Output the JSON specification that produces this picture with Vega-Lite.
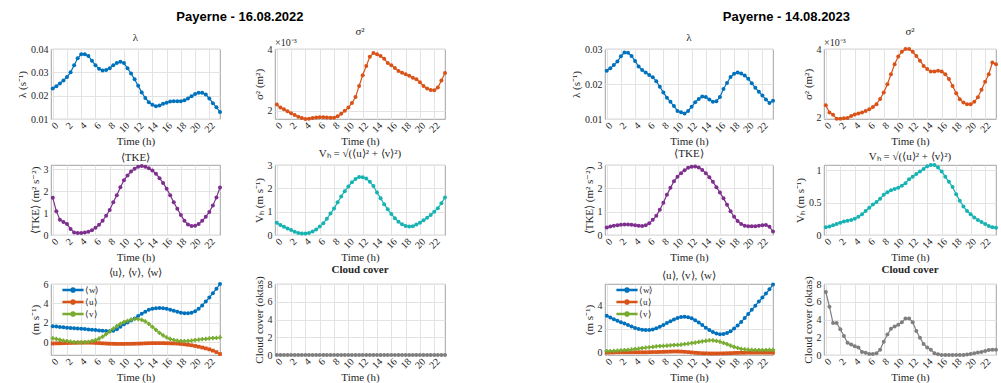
{
"$schema": "https://vega.github.io/schema/vega-lite/v6.json",
"padding": {"left": 16, "right": 0, "top": 10, "bottom": 0},
"datasets": {
"d22": [
{"t":0,"lam":0.0231,"sig":0.00220,"tke":1.70,"vh":0.52,"w":1.65,"u":-0.12,"v":0.42,"cc":0},
{"t":0.5,"lam":0.0240,"sig":0.00210,"tke":1.09,"vh":0.43,"w":1.62,"u":-0.10,"v":0.35,"cc":0},
{"t":1,"lam":0.0252,"sig":0.00205,"tke":0.70,"vh":0.35,"w":1.58,"u":-0.10,"v":0.25,"cc":0},
{"t":1.5,"lam":0.0265,"sig":0.00198,"tke":0.60,"vh":0.28,"w":1.55,"u":-0.08,"v":0.18,"cc":0},
{"t":2,"lam":0.0280,"sig":0.00192,"tke":0.50,"vh":0.21,"w":1.50,"u":-0.07,"v":0.12,"cc":0},
{"t":2.5,"lam":0.0300,"sig":0.00186,"tke":0.28,"vh":0.14,"w":1.48,"u":-0.06,"v":0.07,"cc":0},
{"t":3,"lam":0.0330,"sig":0.00180,"tke":0.12,"vh":0.09,"w":1.45,"u":-0.05,"v":0.03,"cc":0},
{"t":3.5,"lam":0.0360,"sig":0.00176,"tke":0.09,"vh":0.06,"w":1.42,"u":-0.04,"v":0.00,"cc":0},
{"t":4,"lam":0.0377,"sig":0.00173,"tke":0.09,"vh":0.06,"w":1.40,"u":-0.03,"v":0.00,"cc":0},
{"t":4.5,"lam":0.0378,"sig":0.00174,"tke":0.11,"vh":0.09,"w":1.37,"u":-0.03,"v":0.02,"cc":0},
{"t":5,"lam":0.0370,"sig":0.00176,"tke":0.15,"vh":0.15,"w":1.33,"u":-0.03,"v":0.06,"cc":0},
{"t":5.5,"lam":0.0350,"sig":0.00178,"tke":0.22,"vh":0.24,"w":1.30,"u":-0.04,"v":0.12,"cc":0},
{"t":6,"lam":0.0330,"sig":0.00179,"tke":0.33,"vh":0.36,"w":1.27,"u":-0.06,"v":0.22,"cc":0},
{"t":6.5,"lam":0.0315,"sig":0.00179,"tke":0.47,"vh":0.50,"w":1.23,"u":-0.08,"v":0.38,"cc":0},
{"t":7,"lam":0.0308,"sig":0.00178,"tke":0.65,"vh":0.70,"w":1.20,"u":-0.10,"v":0.58,"cc":0},
{"t":7.5,"lam":0.0310,"sig":0.00177,"tke":0.88,"vh":0.92,"w":1.17,"u":-0.12,"v":0.84,"cc":0},
{"t":8,"lam":0.0318,"sig":0.00177,"tke":1.14,"vh":1.14,"w":1.15,"u":-0.14,"v":1.12,"cc":0},
{"t":8.5,"lam":0.0330,"sig":0.00182,"tke":1.50,"vh":1.40,"w":1.20,"u":-0.15,"v":1.40,"cc":0},
{"t":9,"lam":0.0340,"sig":0.00190,"tke":1.82,"vh":1.65,"w":1.35,"u":-0.16,"v":1.66,"cc":0},
{"t":9.5,"lam":0.0345,"sig":0.00200,"tke":2.18,"vh":1.88,"w":1.60,"u":-0.16,"v":1.90,"cc":0},
{"t":10,"lam":0.0340,"sig":0.00210,"tke":2.50,"vh":2.08,"w":1.85,"u":-0.16,"v":2.08,"cc":0},
{"t":10.5,"lam":0.0317,"sig":0.00225,"tke":2.72,"vh":2.26,"w":2.05,"u":-0.15,"v":2.22,"cc":0},
{"t":11,"lam":0.0295,"sig":0.00244,"tke":2.90,"vh":2.40,"w":2.25,"u":-0.15,"v":2.33,"cc":0},
{"t":11.5,"lam":0.0270,"sig":0.00280,"tke":3.03,"vh":2.49,"w":2.45,"u":-0.14,"v":2.40,"cc":0},
{"t":12,"lam":0.0242,"sig":0.00315,"tke":3.12,"vh":2.48,"w":2.70,"u":-0.13,"v":2.40,"cc":0},
{"t":12.5,"lam":0.0214,"sig":0.00345,"tke":3.15,"vh":2.42,"w":2.95,"u":-0.12,"v":2.32,"cc":0},
{"t":13,"lam":0.0190,"sig":0.00375,"tke":3.12,"vh":2.28,"w":3.15,"u":-0.10,"v":2.15,"cc":0},
{"t":13.5,"lam":0.0172,"sig":0.00387,"tke":3.05,"vh":2.10,"w":3.35,"u":-0.09,"v":1.90,"cc":0},
{"t":14,"lam":0.0161,"sig":0.00383,"tke":2.95,"vh":1.82,"w":3.45,"u":-0.08,"v":1.60,"cc":0},
{"t":14.5,"lam":0.0155,"sig":0.00377,"tke":2.80,"vh":1.58,"w":3.50,"u":-0.08,"v":1.28,"cc":0},
{"t":15,"lam":0.0158,"sig":0.00368,"tke":2.60,"vh":1.32,"w":3.52,"u":-0.08,"v":0.98,"cc":0},
{"t":15.5,"lam":0.0165,"sig":0.00355,"tke":2.38,"vh":1.10,"w":3.50,"u":-0.08,"v":0.72,"cc":0},
{"t":16,"lam":0.0170,"sig":0.00347,"tke":2.12,"vh":0.90,"w":3.45,"u":-0.09,"v":0.50,"cc":0},
{"t":16.5,"lam":0.0175,"sig":0.00338,"tke":1.82,"vh":0.72,"w":3.35,"u":-0.10,"v":0.35,"cc":0},
{"t":17,"lam":0.0176,"sig":0.00329,"tke":1.50,"vh":0.57,"w":3.25,"u":-0.11,"v":0.24,"cc":0},
{"t":17.5,"lam":0.0176,"sig":0.00323,"tke":1.20,"vh":0.46,"w":3.15,"u":-0.13,"v":0.17,"cc":0},
{"t":18,"lam":0.0176,"sig":0.00318,"tke":0.92,"vh":0.39,"w":3.05,"u":-0.16,"v":0.13,"cc":0},
{"t":18.5,"lam":0.0180,"sig":0.00313,"tke":0.65,"vh":0.36,"w":3.00,"u":-0.20,"v":0.12,"cc":0},
{"t":19,"lam":0.0188,"sig":0.00307,"tke":0.48,"vh":0.38,"w":3.00,"u":-0.25,"v":0.14,"cc":0},
{"t":19.5,"lam":0.0198,"sig":0.00302,"tke":0.41,"vh":0.45,"w":3.05,"u":-0.30,"v":0.18,"cc":0},
{"t":20,"lam":0.0207,"sig":0.00292,"tke":0.42,"vh":0.53,"w":3.20,"u":-0.37,"v":0.23,"cc":0},
{"t":20.5,"lam":0.0212,"sig":0.00280,"tke":0.50,"vh":0.63,"w":3.45,"u":-0.45,"v":0.28,"cc":0},
{"t":21,"lam":0.0212,"sig":0.00272,"tke":0.65,"vh":0.74,"w":3.80,"u":-0.53,"v":0.32,"cc":0},
{"t":21.5,"lam":0.0205,"sig":0.00267,"tke":0.83,"vh":0.86,"w":4.20,"u":-0.62,"v":0.36,"cc":0},
{"t":22,"lam":0.0188,"sig":0.00266,"tke":1.05,"vh":1.00,"w":4.60,"u":-0.72,"v":0.40,"cc":0},
{"t":22.5,"lam":0.0168,"sig":0.00275,"tke":1.35,"vh":1.15,"w":5.05,"u":-0.85,"v":0.43,"cc":0},
{"t":23,"lam":0.0150,"sig":0.00298,"tke":1.72,"vh":1.36,"w":5.50,"u":-1.00,"v":0.47,"cc":0},
{"t":23.5,"lam":0.0130,"sig":0.00322,"tke":2.17,"vh":1.61,"w":6.00,"u":-1.20,"v":0.50,"cc":0}
],
"d23": [
{"t":0,"lam":0.0238,"sig":0.00237,"tke":0.32,"vh":0.12,"w":3.10,"u":-0.05,"v":0.08,"cc":7.10},
{"t":0.5,"lam":0.0245,"sig":0.00216,"tke":0.36,"vh":0.13,"w":2.95,"u":-0.04,"v":0.09,"cc":5.45},
{"t":1,"lam":0.0254,"sig":0.00209,"tke":0.40,"vh":0.15,"w":2.80,"u":-0.03,"v":0.10,"cc":3.60},
{"t":1.5,"lam":0.0264,"sig":0.00198,"tke":0.42,"vh":0.17,"w":2.67,"u":-0.02,"v":0.12,"cc":3.60},
{"t":2,"lam":0.0279,"sig":0.00198,"tke":0.44,"vh":0.19,"w":2.55,"u":-0.02,"v":0.14,"cc":2.90},
{"t":2.5,"lam":0.0290,"sig":0.00199,"tke":0.45,"vh":0.21,"w":2.43,"u":-0.02,"v":0.16,"cc":2.15},
{"t":3,"lam":0.0289,"sig":0.00200,"tke":0.45,"vh":0.22,"w":2.30,"u":-0.02,"v":0.19,"cc":1.37},
{"t":3.5,"lam":0.0280,"sig":0.00206,"tke":0.44,"vh":0.23,"w":2.18,"u":-0.02,"v":0.22,"cc":1.17},
{"t":4,"lam":0.0266,"sig":0.00210,"tke":0.42,"vh":0.25,"w":2.06,"u":-0.02,"v":0.25,"cc":1.00},
{"t":4.5,"lam":0.0250,"sig":0.00213,"tke":0.40,"vh":0.28,"w":1.97,"u":-0.02,"v":0.29,"cc":0.85},
{"t":5,"lam":0.0240,"sig":0.00216,"tke":0.39,"vh":0.32,"w":1.90,"u":-0.02,"v":0.33,"cc":0.35},
{"t":5.5,"lam":0.0233,"sig":0.00220,"tke":0.42,"vh":0.37,"w":1.87,"u":-0.02,"v":0.37,"cc":0.25},
{"t":6,"lam":0.0226,"sig":0.00225,"tke":0.50,"vh":0.42,"w":1.88,"u":-0.01,"v":0.41,"cc":0.12},
{"t":6.5,"lam":0.0219,"sig":0.00232,"tke":0.65,"vh":0.47,"w":1.93,"u":0.00,"v":0.45,"cc":0.12},
{"t":7,"lam":0.0208,"sig":0.00240,"tke":0.82,"vh":0.51,"w":2.02,"u":0.00,"v":0.48,"cc":0.20},
{"t":7.5,"lam":0.0192,"sig":0.00255,"tke":1.08,"vh":0.56,"w":2.15,"u":0.01,"v":0.51,"cc":0.60},
{"t":8,"lam":0.0176,"sig":0.00274,"tke":1.38,"vh":0.62,"w":2.30,"u":0.02,"v":0.53,"cc":1.50},
{"t":8.5,"lam":0.0161,"sig":0.00298,"tke":1.72,"vh":0.66,"w":2.47,"u":0.03,"v":0.55,"cc":2.30},
{"t":9,"lam":0.0149,"sig":0.00327,"tke":2.02,"vh":0.69,"w":2.63,"u":0.04,"v":0.57,"cc":2.95},
{"t":9.5,"lam":0.0137,"sig":0.00356,"tke":2.30,"vh":0.71,"w":2.78,"u":0.05,"v":0.59,"cc":3.20},
{"t":10,"lam":0.0123,"sig":0.00378,"tke":2.50,"vh":0.73,"w":2.90,"u":0.05,"v":0.61,"cc":3.40},
{"t":10.5,"lam":0.0119,"sig":0.00392,"tke":2.65,"vh":0.76,"w":2.98,"u":0.04,"v":0.64,"cc":3.70},
{"t":11,"lam":0.0116,"sig":0.00400,"tke":2.78,"vh":0.80,"w":3.00,"u":0.02,"v":0.67,"cc":4.10},
{"t":11.5,"lam":0.0123,"sig":0.00400,"tke":2.88,"vh":0.86,"w":2.97,"u":0.00,"v":0.71,"cc":4.10},
{"t":12,"lam":0.0135,"sig":0.00392,"tke":2.93,"vh":0.90,"w":2.88,"u":-0.03,"v":0.76,"cc":3.70},
{"t":12.5,"lam":0.0148,"sig":0.00380,"tke":2.94,"vh":0.94,"w":2.72,"u":-0.06,"v":0.81,"cc":2.70},
{"t":13,"lam":0.0157,"sig":0.00366,"tke":2.89,"vh":0.98,"w":2.52,"u":-0.08,"v":0.86,"cc":1.95},
{"t":13.5,"lam":0.0164,"sig":0.00351,"tke":2.79,"vh":1.02,"w":2.30,"u":-0.10,"v":0.91,"cc":1.25},
{"t":14,"lam":0.0163,"sig":0.00342,"tke":2.65,"vh":1.06,"w":2.08,"u":-0.11,"v":0.96,"cc":0.85},
{"t":14.5,"lam":0.0156,"sig":0.00335,"tke":2.48,"vh":1.08,"w":1.87,"u":-0.12,"v":0.99,"cc":0.60},
{"t":15,"lam":0.0149,"sig":0.00335,"tke":2.28,"vh":1.08,"w":1.70,"u":-0.12,"v":0.99,"cc":0.20},
{"t":15.5,"lam":0.0151,"sig":0.00337,"tke":2.05,"vh":1.04,"w":1.58,"u":-0.12,"v":0.95,"cc":0.08},
{"t":16,"lam":0.0163,"sig":0.00335,"tke":1.82,"vh":0.98,"w":1.52,"u":-0.12,"v":0.88,"cc":0},
{"t":16.5,"lam":0.0186,"sig":0.00327,"tke":1.57,"vh":0.90,"w":1.53,"u":-0.11,"v":0.78,"cc":0},
{"t":17,"lam":0.0203,"sig":0.00313,"tke":1.30,"vh":0.82,"w":1.62,"u":-0.10,"v":0.67,"cc":0},
{"t":17.5,"lam":0.0220,"sig":0.00293,"tke":1.02,"vh":0.74,"w":1.78,"u":-0.09,"v":0.55,"cc":0},
{"t":18,"lam":0.0229,"sig":0.00272,"tke":0.78,"vh":0.63,"w":2.00,"u":-0.08,"v":0.44,"cc":0},
{"t":18.5,"lam":0.0233,"sig":0.00254,"tke":0.60,"vh":0.53,"w":2.27,"u":-0.07,"v":0.35,"cc":0},
{"t":19,"lam":0.0230,"sig":0.00245,"tke":0.47,"vh":0.44,"w":2.57,"u":-0.06,"v":0.28,"cc":0},
{"t":19.5,"lam":0.0224,"sig":0.00240,"tke":0.40,"vh":0.37,"w":2.90,"u":-0.06,"v":0.23,"cc":0.05},
{"t":20,"lam":0.0215,"sig":0.00240,"tke":0.38,"vh":0.32,"w":3.25,"u":-0.05,"v":0.20,"cc":0.12},
{"t":20.5,"lam":0.0202,"sig":0.00247,"tke":0.37,"vh":0.27,"w":3.60,"u":-0.05,"v":0.18,"cc":0.20},
{"t":21,"lam":0.0189,"sig":0.00260,"tke":0.38,"vh":0.23,"w":3.95,"u":-0.05,"v":0.17,"cc":0.28},
{"t":21.5,"lam":0.0178,"sig":0.00282,"tke":0.40,"vh":0.20,"w":4.30,"u":-0.05,"v":0.17,"cc":0.35},
{"t":22,"lam":0.0167,"sig":0.00305,"tke":0.42,"vh":0.17,"w":4.65,"u":-0.05,"v":0.17,"cc":0.45},
{"t":22.5,"lam":0.0156,"sig":0.00327,"tke":0.43,"vh":0.14,"w":4.98,"u":-0.05,"v":0.17,"cc":0.55},
{"t":23,"lam":0.0146,"sig":0.00361,"tke":0.35,"vh":0.12,"w":5.35,"u":-0.05,"v":0.18,"cc":0.60},
{"t":23.5,"lam":0.0152,"sig":0.00356,"tke":0.15,"vh":0.11,"w":5.75,"u":-0.05,"v":0.18,"cc":0.58}
]
},
"config": {
  "font": "Liberation Serif",
  "view": {"stroke": "#8a8a8a", "strokeWidth": 0.8},
  "axis": {"labelFont": "Liberation Serif", "titleFont": "Liberation Serif", "labelFontSize": 10, "titleFontSize": 11, "titleFontWeight": "normal", "labelColor": "#262626", "titleColor": "#262626", "gridColor": "#e3e3e3", "domain": false, "ticks": false, "labelPadding": 3, "titlePadding": 3},
  "title": {"font": "Liberation Serif", "fontSize": 11, "fontWeight": "normal", "color": "#262626", "offset": 1},
  "line": {"strokeWidth": 1.2},
  "point": {"filled": true, "size": 16, "opacity": 1}
},
"resolve": {"scale": {"color": "independent"}, "legend": {"color": "independent"}},
"spacing": 122,
"hconcat": [
{
 "title": {"text": "Payerne - 16.08.2022", "font": "Liberation Sans", "fontSize": 13, "fontWeight": "bold", "color": "#000000", "anchor": "middle", "offset": 2, "dx": 8},
 "columns": 2,
 "spacing": {"row": 0, "column": 29},
 "resolve": {"scale": {"color": "independent"}, "legend": {"color": "independent"}},
 "concat": [
   {"width": 169, "height": 70, "data": {"name": "d22"}, "title": "λ",
    "mark": {"type": "line", "color": "#0072BD", "point": {"filled": true, "size": 16, "color": "#0072BD"}},
    "encoding": {
     "x": {"field": "t", "type": "quantitative", "scale": {"domain": [-0.25, 23.5], "nice": false, "zero": false}, "axis": {"title": "Time (h)", "labelAngle": -45, "tickCount": 12, "labelPadding": 1, "titlePadding": 1, "encode": {"labels": {"update": {"angle": {"value": -45}, "align": {"value": "right"}, "baseline": {"value": "middle"}}}}}},
     "y": {"field": "lam", "type": "quantitative", "scale": {"domain": [0.01, 0.04], "nice": false, "zero": false}, "axis": {"title": "λ (s⁻¹)", "values": [0.01, 0.02, 0.03, 0.04], "format": ".2f"}}}},
   {"width": 170, "height": 70, "data": {"name": "d22"}, "title": "σ²",
    "layer": [
     {"mark": {"type": "line", "color": "#D95319", "point": {"filled": true, "size": 16, "color": "#D95319"}},
      "encoding": {
       "x": {"field": "t", "type": "quantitative", "scale": {"domain": [-0.25, 23.5], "nice": false, "zero": false}, "axis": {"title": "Time (h)", "labelAngle": -45, "tickCount": 12, "labelPadding": 1, "titlePadding": 1, "encode": {"labels": {"update": {"angle": {"value": -45}, "align": {"value": "right"}, "baseline": {"value": "middle"}}}}}},
       "y": {"field": "sig", "type": "quantitative", "scale": {"domain": [0.00173, 0.004], "nice": false, "zero": false}, "axis": {"title": "σ² (m²)", "values": [0.002, 0.003, 0.004], "labelExpr": "format(datum.value*1000, '.0f')"}}}},
     {"data": {"values": [{"lbl": "×10⁻³"}]},
      "mark": {"type": "text", "align": "left", "baseline": "bottom", "dy": -1, "fontSize": 10, "font": "Liberation Serif", "color": "#262626"},
      "encoding": {"x": {"datum": -0.25, "type": "quantitative"}, "y": {"datum": 0.004, "type": "quantitative"}, "text": {"field": "lbl"}}}
    ]},
   {"width": 169, "height": 70, "data": {"name": "d22"}, "title": "⟨TKE⟩",
    "mark": {"type": "line", "color": "#7E2F8E", "point": {"filled": true, "size": 16, "color": "#7E2F8E"}},
    "encoding": {
     "x": {"field": "t", "type": "quantitative", "scale": {"domain": [-0.25, 23.5], "nice": false, "zero": false}, "axis": {"title": "Time (h)", "labelAngle": -45, "tickCount": 12, "labelPadding": 1, "titlePadding": 1, "encode": {"labels": {"update": {"angle": {"value": -45}, "align": {"value": "right"}, "baseline": {"value": "middle"}}}}}},
     "y": {"field": "tke", "type": "quantitative", "scale": {"domain": [0, 3.2], "nice": false, "zero": false}, "axis": {"title": "⟨TKE⟩ (m² s⁻²)", "values": [0, 1, 2, 3]}}}},
   {"width": 170, "height": 70, "data": {"name": "d22"}, "title": "Vₕ = √(⟨u⟩² + ⟨v⟩²)",
    "mark": {"type": "line", "color": "#17B3B3", "point": {"filled": true, "size": 16, "color": "#17B3B3"}},
    "encoding": {
     "x": {"field": "t", "type": "quantitative", "scale": {"domain": [-0.25, 23.5], "nice": false, "zero": false}, "axis": {"title": "Time (h)", "labelAngle": -45, "tickCount": 12, "labelPadding": 1, "titlePadding": 1, "encode": {"labels": {"update": {"angle": {"value": -45}, "align": {"value": "right"}, "baseline": {"value": "middle"}}}}}},
     "y": {"field": "vh", "type": "quantitative", "scale": {"domain": [0, 3], "nice": false, "zero": false}, "axis": {"title": "Vₕ (m s⁻¹)", "values": [0, 1, 2, 3]}}}},
   {"width": 169, "height": 71, "data": {"name": "d22"}, "title": "⟨u⟩, ⟨v⟩, ⟨w⟩",
    "transform": [{"fold": ["w", "u", "v"], "as": ["series", "val"]}],
    "encoding": {
     "x": {"field": "t", "type": "quantitative", "scale": {"domain": [-0.25, 23.5], "nice": false, "zero": false}, "axis": {"title": "Time (h)", "labelAngle": -45, "tickCount": 12, "labelPadding": 1, "titlePadding": 1, "encode": {"labels": {"update": {"angle": {"value": -45}, "align": {"value": "right"}, "baseline": {"value": "middle"}}}}}},
     "y": {"field": "val", "type": "quantitative", "scale": {"domain": [-1.3, 6], "nice": false, "zero": false}, "axis": {"title": "(m s⁻¹)", "values": [0, 2, 4, 6]}},
     "color": {"field": "series", "type": "nominal", "scale": {"domain": ["w", "u", "v"], "range": ["#0072BD", "#D95319", "#77AC30"]},
        "legend": {"title": null, "orient": "top-left", "offset": 0, "padding": 0, "symbolOffset": 16, "symbolSize": 100, "symbolType": "M-2,-0.12H2V0.12H-2ZM-0.45,0A0.45,0.45 0 1 1 0.45,0A0.45,0.45 0 1 1 -0.45,0Z", "labelOffset": 6, "rowPadding": 1, "labelFont": "Liberation Serif", "labelFontSize": 9, "labelColor": "#262626",
         "labelExpr": "'⟨' + datum.label + '⟩'",
         "encode": {"symbols": {"update": {
           "shape": {"signal": "datum.value === 'w' ? 'M-2,-0.12H2V0.12H-2ZM-0.45,0A0.45,0.45 0 1 1 0.45,0A0.45,0.45 0 1 1 -0.45,0Z' : datum.value === 'u' ? 'M-2,-0.12H2V0.12H-2ZM-0.4,-0.4H0.4V0.4H-0.4Z' : 'M-2,-0.12H2V0.12H-2ZM-0.14,-0.5H0.14V-0.14H0.5V0.14H0.14V0.5H-0.14V0.14H-0.5V-0.14H-0.14Z'"},
           "fill": {"signal": "datum.value === 'w' ? '#0072BD' : datum.value === 'u' ? '#D95319' : '#77AC30'"},
           "fillOpacity": {"value": 1},
           "strokeWidth": {"value": 0}}}}}}},
    "layer": [
     {"mark": {"type": "line"}},
     {"transform": [{"filter": "datum.series === 'w'"}], "mark": {"type": "point", "shape": "circle", "filled": true, "size": 16, "opacity": 1}},
     {"transform": [{"filter": "datum.series === 'u'"}], "mark": {"type": "point", "shape": "square", "filled": true, "size": 14, "opacity": 1}},
     {"transform": [{"filter": "datum.series === 'v'"}], "mark": {"type": "point", "shape": "cross", "filled": true, "size": 18, "opacity": 1}}
    ]},
   {"width": 170, "height": 71, "data": {"name": "d22"}, "title": {"text": "Cloud cover", "fontWeight": "bold"},
    "mark": {"type": "line", "color": "#7F7F7F", "point": {"filled": true, "size": 16, "color": "#7F7F7F"}},
    "encoding": {
     "x": {"field": "t", "type": "quantitative", "scale": {"domain": [-0.25, 23.5], "nice": false, "zero": false}, "axis": {"title": "Time (h)", "labelAngle": -45, "tickCount": 12, "labelPadding": 1, "titlePadding": 1, "encode": {"labels": {"update": {"angle": {"value": -45}, "align": {"value": "right"}, "baseline": {"value": "middle"}}}}}},
     "y": {"field": "cc", "type": "quantitative", "scale": {"domain": [0, 8], "nice": false, "zero": false}, "axis": {"title": "Cloud cover (oktas)", "values": [0, 2, 4, 6, 8]}}}}
 ]
},
{
 "title": {"text": "Payerne - 14.08.2023", "font": "Liberation Sans", "fontSize": 13, "fontWeight": "bold", "color": "#000000", "anchor": "middle", "offset": 2, "dx": 2},
 "columns": 2,
 "spacing": {"row": 0, "column": 18},
 "resolve": {"scale": {"color": "independent"}, "legend": {"color": "independent"}},
 "concat": [
   {"width": 168, "height": 70, "data": {"name": "d23"}, "title": "λ",
    "mark": {"type": "line", "color": "#0072BD", "point": {"filled": true, "size": 16, "color": "#0072BD"}},
    "encoding": {
     "x": {"field": "t", "type": "quantitative", "scale": {"domain": [-0.25, 23.5], "nice": false, "zero": false}, "axis": {"title": "Time (h)", "labelAngle": -45, "tickCount": 12, "labelPadding": 1, "titlePadding": 1, "encode": {"labels": {"update": {"angle": {"value": -45}, "align": {"value": "right"}, "baseline": {"value": "middle"}}}}}},
     "y": {"field": "lam", "type": "quantitative", "scale": {"domain": [0.01, 0.03], "nice": false, "zero": false}, "axis": {"title": "λ (s⁻¹)", "values": [0.01, 0.02, 0.03], "format": ".2f"}}}},
   {"width": 172, "height": 70, "data": {"name": "d23"}, "title": "σ²",
    "layer": [
     {"mark": {"type": "line", "color": "#D95319", "point": {"filled": true, "size": 16, "color": "#D95319"}},
      "encoding": {
       "x": {"field": "t", "type": "quantitative", "scale": {"domain": [-0.25, 23.5], "nice": false, "zero": false}, "axis": {"title": "Time (h)", "labelAngle": -45, "tickCount": 12, "labelPadding": 1, "titlePadding": 1, "encode": {"labels": {"update": {"angle": {"value": -45}, "align": {"value": "right"}, "baseline": {"value": "middle"}}}}}},
       "y": {"field": "sig", "type": "quantitative", "scale": {"domain": [0.00197, 0.004], "nice": false, "zero": false}, "axis": {"title": "σ² (m²)", "values": [0.002, 0.003, 0.004], "labelExpr": "format(datum.value*1000, '.0f')"}}}},
     {"data": {"values": [{"lbl": "×10⁻³"}]},
      "mark": {"type": "text", "align": "left", "baseline": "bottom", "dy": -1, "fontSize": 10, "font": "Liberation Serif", "color": "#262626"},
      "encoding": {"x": {"datum": -0.25, "type": "quantitative"}, "y": {"datum": 0.004, "type": "quantitative"}, "text": {"field": "lbl"}}}
    ]},
   {"width": 168, "height": 70, "data": {"name": "d23"}, "title": "⟨TKE⟩",
    "mark": {"type": "line", "color": "#7E2F8E", "point": {"filled": true, "size": 16, "color": "#7E2F8E"}},
    "encoding": {
     "x": {"field": "t", "type": "quantitative", "scale": {"domain": [-0.25, 23.5], "nice": false, "zero": false}, "axis": {"title": "Time (h)", "labelAngle": -45, "tickCount": 12, "labelPadding": 1, "titlePadding": 1, "encode": {"labels": {"update": {"angle": {"value": -45}, "align": {"value": "right"}, "baseline": {"value": "middle"}}}}}},
     "y": {"field": "tke", "type": "quantitative", "scale": {"domain": [0, 3], "nice": false, "zero": false}, "axis": {"title": "⟨TKE⟩ (m² s⁻²)", "values": [0, 1, 2, 3]}}}},
   {"width": 172, "height": 70, "data": {"name": "d23"}, "title": "Vₕ = √(⟨u⟩² + ⟨v⟩²)",
    "mark": {"type": "line", "color": "#17B3B3", "point": {"filled": true, "size": 16, "color": "#17B3B3"}},
    "encoding": {
     "x": {"field": "t", "type": "quantitative", "scale": {"domain": [-0.25, 23.5], "nice": false, "zero": false}, "axis": {"title": "Time (h)", "labelAngle": -45, "tickCount": 12, "labelPadding": 1, "titlePadding": 1, "encode": {"labels": {"update": {"angle": {"value": -45}, "align": {"value": "right"}, "baseline": {"value": "middle"}}}}}},
     "y": {"field": "vh", "type": "quantitative", "scale": {"domain": [0, 1.08], "nice": false, "zero": false}, "axis": {"title": "Vₕ (m s⁻¹)", "values": [0, 0.5, 1], "format": "~g"}}}},
   {"width": 168, "height": 71, "data": {"name": "d23"}, "title": "⟨u⟩, ⟨v⟩, ⟨w⟩",
    "transform": [{"fold": ["w", "u", "v"], "as": ["series", "val"]}],
    "encoding": {
     "x": {"field": "t", "type": "quantitative", "scale": {"domain": [-0.25, 23.5], "nice": false, "zero": false}, "axis": {"title": "Time (h)", "labelAngle": -45, "tickCount": 12, "labelPadding": 1, "titlePadding": 1, "encode": {"labels": {"update": {"angle": {"value": -45}, "align": {"value": "right"}, "baseline": {"value": "middle"}}}}}},
     "y": {"field": "val", "type": "quantitative", "scale": {"domain": [-0.25, 5.8], "nice": false, "zero": false}, "axis": {"title": "(m s⁻¹)", "values": [0, 2, 4]}},
     "color": {"field": "series", "type": "nominal", "scale": {"domain": ["w", "u", "v"], "range": ["#0072BD", "#D95319", "#77AC30"]},
        "legend": {"title": null, "orient": "top-left", "offset": 0, "padding": 0, "symbolOffset": 16, "symbolSize": 100, "symbolType": "M-2,-0.12H2V0.12H-2ZM-0.45,0A0.45,0.45 0 1 1 0.45,0A0.45,0.45 0 1 1 -0.45,0Z", "labelOffset": 6, "rowPadding": 1, "labelFont": "Liberation Serif", "labelFontSize": 9, "labelColor": "#262626",
         "labelExpr": "'⟨' + datum.label + '⟩'",
         "encode": {"symbols": {"update": {
           "shape": {"signal": "datum.value === 'w' ? 'M-2,-0.12H2V0.12H-2ZM-0.45,0A0.45,0.45 0 1 1 0.45,0A0.45,0.45 0 1 1 -0.45,0Z' : datum.value === 'u' ? 'M-2,-0.12H2V0.12H-2ZM-0.4,-0.4H0.4V0.4H-0.4Z' : 'M-2,-0.12H2V0.12H-2ZM-0.14,-0.5H0.14V-0.14H0.5V0.14H0.14V0.5H-0.14V0.14H-0.5V-0.14H-0.14Z'"},
           "fill": {"signal": "datum.value === 'w' ? '#0072BD' : datum.value === 'u' ? '#D95319' : '#77AC30'"},
           "fillOpacity": {"value": 1},
           "strokeWidth": {"value": 0}}}}}}},
    "layer": [
     {"mark": {"type": "line"}},
     {"transform": [{"filter": "datum.series === 'w'"}], "mark": {"type": "point", "shape": "circle", "filled": true, "size": 16, "opacity": 1}},
     {"transform": [{"filter": "datum.series === 'u'"}], "mark": {"type": "point", "shape": "square", "filled": true, "size": 14, "opacity": 1}},
     {"transform": [{"filter": "datum.series === 'v'"}], "mark": {"type": "point", "shape": "cross", "filled": true, "size": 18, "opacity": 1}}
    ]},
   {"width": 172, "height": 71, "data": {"name": "d23"}, "title": {"text": "Cloud cover", "fontWeight": "bold"},
    "mark": {"type": "line", "color": "#7F7F7F", "point": {"filled": true, "size": 16, "color": "#7F7F7F"}},
    "encoding": {
     "x": {"field": "t", "type": "quantitative", "scale": {"domain": [-0.25, 23.5], "nice": false, "zero": false}, "axis": {"title": "Time (h)", "labelAngle": -45, "tickCount": 12, "labelPadding": 1, "titlePadding": 1, "encode": {"labels": {"update": {"angle": {"value": -45}, "align": {"value": "right"}, "baseline": {"value": "middle"}}}}}},
     "y": {"field": "cc", "type": "quantitative", "scale": {"domain": [0, 8], "nice": false, "zero": false}, "axis": {"title": "Cloud cover (oktas)", "values": [0, 2, 4, 6, 8]}}}}
 ]
}
]
}
